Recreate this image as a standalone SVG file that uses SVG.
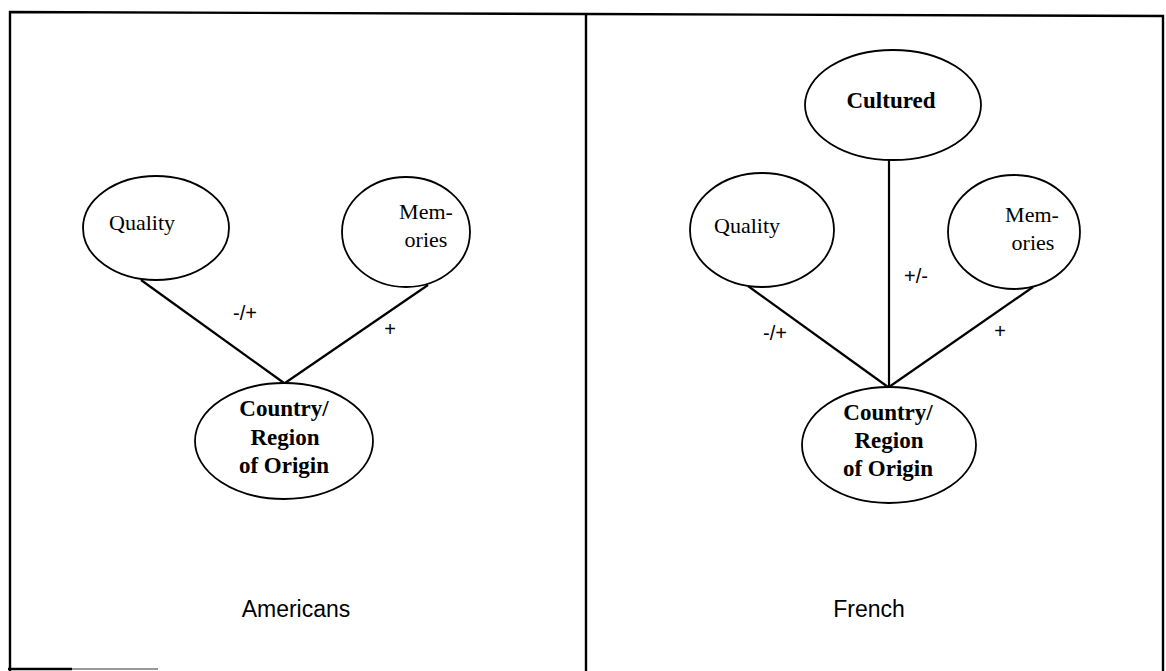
<svg xmlns="http://www.w3.org/2000/svg" width="1166" height="671" viewBox="0 0 1166 671">
  <style>
    .frame { fill: none; stroke: #000; stroke-width: 2.4; }
    .node ellipse { fill: #fff; stroke: #000; stroke-width: 1.8; }
    .edge { stroke: #000; stroke-width: 2.2; fill: none; }
    .t { font-family: "Liberation Serif", "Times New Roman", serif; font-size: 22px; fill: #000; text-anchor: middle; }
    .tb { font-family: "Liberation Serif", "Times New Roman", serif; font-size: 23px; font-weight: bold; fill: #000; text-anchor: middle; }
    .lbl { font-family: "Liberation Sans", Arial, sans-serif; font-size: 20px; fill: #000; text-anchor: middle; }
    .panel { font-family: "Liberation Sans", Arial, sans-serif; font-size: 23px; fill: #000; text-anchor: middle; }
  </style>
  <rect width="1166" height="671" fill="#fff"/>

  <!-- panel frame -->
  <g id="frame">
    <polyline class="frame" points="10,671 10,12 586,14 1163,16 1163,671"/>
    <line class="frame" x1="586" y1="14" x2="586" y2="671"/>
    <line class="frame" x1="8" y1="669" x2="72" y2="669"/>
    <line x1="72" y1="669" x2="158" y2="669" stroke="#999" stroke-width="2"/>
  </g>

  <!-- connectors -->
  <g id="connectors">
    <line class="edge" x1="141" y1="280" x2="284" y2="383"/>
    <line class="edge" x1="428" y1="285" x2="285" y2="383"/>
    <line class="edge" x1="889" y1="160" x2="889" y2="387"/>
    <line class="edge" x1="748" y1="286" x2="888" y2="387"/>
    <line class="edge" x1="1033" y1="287" x2="889" y2="387"/>
  </g>

  <!-- connector labels -->
  <g id="edge-labels">
    <text class="lbl" x="245" y="320">-/+</text>
    <text class="lbl" x="390" y="336">+</text>
    <text class="lbl" x="916" y="283">+/-</text>
    <text class="lbl" x="775" y="340">-/+</text>
    <text class="lbl" x="1000" y="338">+</text>
  </g>

  <!-- Americans panel -->
  <g id="us-quality" class="node">
    <ellipse cx="156" cy="228" rx="73" ry="52"/>
    <text class="t" x="142" y="230">Quality</text>
  </g>
  <g id="us-memories" class="node">
    <ellipse cx="406" cy="232" rx="64" ry="55"/>
    <text class="t" x="426" y="219">Mem-</text>
    <text class="t" x="426" y="247">ories</text>
  </g>
  <g id="us-origin" class="node">
    <ellipse cx="284" cy="441" rx="89" ry="58"/>
    <text class="tb" x="284" y="416">Country/</text>
    <text class="tb" x="285" y="445">Region</text>
    <text class="tb" x="284" y="473">of Origin</text>
  </g>
  <text id="us-title" class="panel" x="296" y="617">Americans</text>

  <!-- French panel -->
  <g id="fr-cultured" class="node">
    <ellipse cx="893" cy="105" rx="88" ry="55"/>
    <text class="tb" x="891" y="108">Cultured</text>
  </g>
  <g id="fr-quality" class="node">
    <ellipse cx="762" cy="230" rx="72" ry="57"/>
    <text class="t" x="747" y="233">Quality</text>
  </g>
  <g id="fr-memories" class="node">
    <ellipse cx="1014" cy="232" rx="66" ry="57"/>
    <text class="t" x="1032" y="222">Mem-</text>
    <text class="t" x="1033" y="250">ories</text>
  </g>
  <g id="fr-origin" class="node">
    <ellipse cx="889" cy="445" rx="87" ry="58"/>
    <text class="tb" x="888" y="420">Country/</text>
    <text class="tb" x="889" y="448">Region</text>
    <text class="tb" x="888" y="476">of Origin</text>
  </g>
  <text id="fr-title" class="panel" x="869" y="617">French</text>
</svg>
